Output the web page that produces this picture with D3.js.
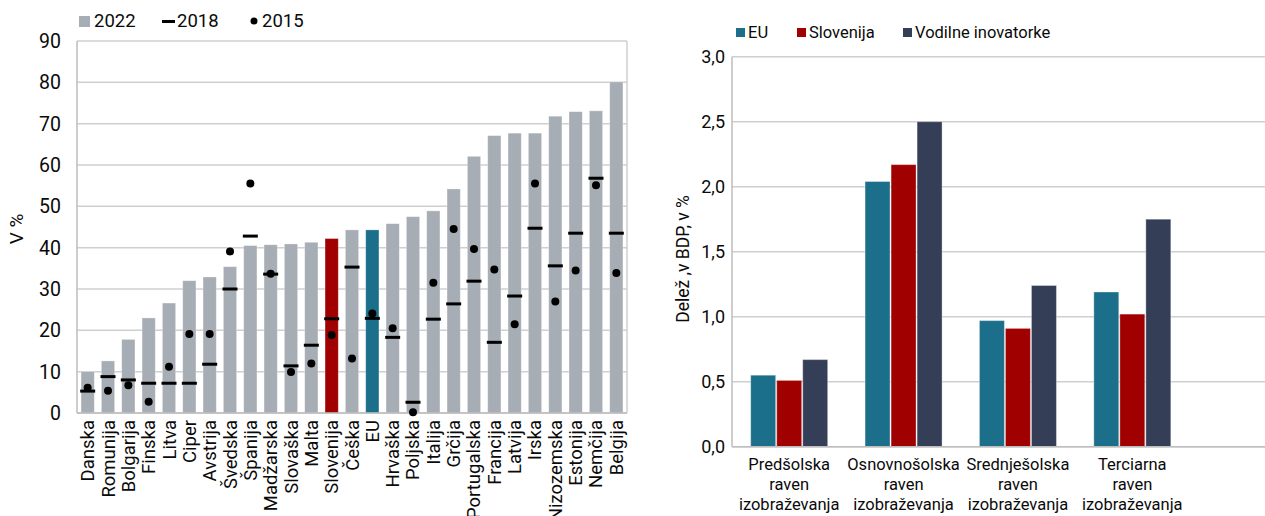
<!DOCTYPE html>
<html><head><meta charset="utf-8">
<script src="https://cdn.jsdelivr.net/npm/d3@7"></script>
<style>
html,body{margin:0;padding:0;background:#fff;}
svg{display:block;font-family:Roboto,"Noto Sans",sans-serif;}
</style></head><body>
<svg id="c" width="1265" height="516"></svg>
<script>
// ---- Left chart data ----
const countries = ["Danska","Romunija","Bolgarija","Finska","Litva","Ciper","Avstrija","Švedska","Španija","Madžarska","Slovaška","Malta","Slovenija","Češka","EU","Hrvaška","Poljska","Italija","Grčija","Portugalska","Francija","Latvija","Irska","Nizozemska","Estonija","Nemčija","Belgija"];
const v2022 = [10.0,12.6,17.8,23.0,26.6,32.0,32.9,35.4,40.5,40.7,40.9,41.3,42.2,44.3,44.3,45.8,47.5,48.9,54.2,62.1,67.1,67.7,67.7,71.8,72.9,73.1,80.1];
const v2018 = [5.3,8.8,8.0,7.2,7.2,7.2,11.8,30.0,42.8,33.6,11.4,16.4,22.8,35.3,22.9,18.3,2.6,22.7,26.4,31.9,17.1,28.3,44.7,35.6,43.5,56.8,43.5];
const v2015 = [6.1,5.4,6.7,2.7,11.2,19.1,19.1,39.1,55.5,33.7,9.9,12.0,18.9,13.2,24.1,20.5,0.2,31.5,44.5,39.7,34.7,21.5,55.5,27.0,34.5,55.1,33.9];
const leftTicks = [0,10,20,30,40,50,60,70,80,90];
const leftLegend = ["2022","2018","2015"];

// ---- Right chart data ----
const levels = [["Predšolska","raven","izobraževanja"],["Osnovnošolska","raven","izobraževanja"],["Srednješolska","raven","izobraževanja"],["Terciarna","raven","izobraževanja"]];
const seriesNames = ["EU","Slovenija","Vodilne inovatorke"];
const euVals = [0.55,2.04,0.97,1.19];
const siVals = [0.51,2.17,0.91,1.02];
const viVals = [0.67,2.50,1.24,1.75];
const rightTicks = [0,0.5,1.0,1.5,2.0,2.5,3.0];

const GRAY="#a7adb4", RED="#a10000", TEAL="#1b6f8a", NAVY="#343e57";
const GRID="#cfcfcf", AXIS="#bdbdbd", TXT="#0a0a0a";

const svg = d3.select("#c");

// ================= LEFT =================
{
  const L=77,R=627,T=41,B=413;
  const x = d3.scaleBand().domain(countries).range([L,R]).paddingInner(0.35).paddingOuter(0.2);
  const y = d3.scaleLinear().domain([0,90]).range([B,T]);
  const g = svg.append("g");
  g.selectAll(".gl").data(leftTicks).join("line")
    .attr("x1",L).attr("x2",R).attr("y1",d=>y(d)).attr("y2",d=>y(d))
    .attr("stroke",GRID).attr("stroke-width",1.5);
  g.append("line").attr("x1",R).attr("x2",R).attr("y1",T).attr("y2",B).attr("stroke",GRID).attr("stroke-width",1.5);
  g.selectAll(".bar").data(countries).join("rect")
    .attr("x",d=>x(d)).attr("width",x.bandwidth())
    .attr("y",(d,i)=>y(v2022[i])).attr("height",(d,i)=>B-y(v2022[i]))
    .attr("fill",d=>d==="Slovenija"?RED:(d==="EU"?TEAL:GRAY))
    .attr("stroke","rgba(255,255,255,0.35)").attr("stroke-width",0.8);
  g.append("line").attr("x1",L).attr("x2",L).attr("y1",T).attr("y2",B).attr("stroke",AXIS).attr("stroke-width",1.5);
  g.append("line").attr("x1",L).attr("x2",R).attr("y1",B).attr("y2",B).attr("stroke",AXIS).attr("stroke-width",1.5);
  const dw = 15;
  g.selectAll(".dash").data(countries).join("rect")
    .attr("x",d=>x(d)+x.bandwidth()/2-dw/2).attr("width",dw)
    .attr("y",(d,i)=>y(v2018[i])-1.5).attr("height",3).attr("fill","#000");
  g.selectAll(".dot").data(countries).join("circle")
    .attr("cx",d=>x(d)+x.bandwidth()/2).attr("cy",(d,i)=>y(v2015[i])).attr("r",4).attr("fill","#000");
  g.selectAll(".yt").data(leftTicks).join("text")
    .attr("x",61).attr("y",d=>y(d)).attr("dy","0.36em").attr("text-anchor","end")
    .attr("font-size",19.5).attr("fill",TXT).text(d=>d);
  g.append("text").attr("transform","translate(23,229) rotate(-90)").attr("text-anchor","middle")
    .attr("font-size",19).attr("fill",TXT).text("V %");
  g.selectAll(".xl").data(countries).join("text")
    .attr("transform",d=>`translate(${x(d)+x.bandwidth()/2+6.5},420) rotate(-90)`)
    .attr("text-anchor","end").attr("font-size",18.5).attr("fill",TXT).text(d=>d);
  const lg = g.append("g");
  lg.append("rect").attr("x",79).attr("y",16).attr("width",11).attr("height",11).attr("fill",GRAY);
  lg.append("text").attr("x",94).attr("y",27).attr("font-size",18.5).attr("fill",TXT).text(leftLegend[0]);
  lg.append("rect").attr("x",162).attr("y",20).attr("width",13).attr("height",3).attr("fill","#000");
  lg.append("text").attr("x",177).attr("y",27).attr("font-size",18.5).attr("fill",TXT).text(leftLegend[1]);
  lg.append("circle").attr("cx",254).attr("cy",21).attr("r",3.5).attr("fill","#000");
  lg.append("text").attr("x",262).attr("y",27).attr("font-size",18.5).attr("fill",TXT).text(leftLegend[2]);
}

// ================= RIGHT =================
{
  const L=732,R=1265,T=56.7,B=446.7;
  const keys = levels.map(d=>d[0]);
  const x0 = d3.scaleBand().domain(keys).range([L,1189.5]).padding(0);
  const x1 = d3.scaleBand().domain(seriesNames).range([-38.5,38.5]).paddingInner(0.04);
  const y = d3.scaleLinear().domain([0,3]).range([B,T]);
  const colors = d3.scaleOrdinal().domain(seriesNames).range([TEAL,RED,NAVY]);
  const vals = [euVals,siVals,viVals];
  const g = svg.append("g");
  g.selectAll(".gl").data(rightTicks).join("line")
    .attr("x1",L).attr("x2",R).attr("y1",d=>y(d)).attr("y2",d=>y(d))
    .attr("stroke",GRID).attr("stroke-width",1.5);
  const grp = g.selectAll(".grp").data(keys).join("g")
    .attr("transform",d=>`translate(${x0(d)+x0.bandwidth()/2},0)`);
  grp.selectAll("rect").data((d,i)=>seriesNames.map((s,j)=>({s,v:vals[j][i]}))).join("rect")
    .attr("x",d=>x1(d.s)).attr("width",x1.bandwidth())
    .attr("y",d=>y(d.v)).attr("height",d=>B-y(d.v))
    .attr("fill",d=>colors(d.s)).attr("stroke","rgba(255,255,255,0.35)").attr("stroke-width",1);
  g.append("line").attr("x1",L).attr("x2",L).attr("y1",T).attr("y2",B).attr("stroke",AXIS).attr("stroke-width",1.5);
  g.append("line").attr("x1",L).attr("x2",R).attr("y1",B).attr("y2",B).attr("stroke",AXIS).attr("stroke-width",1.5);
  const fmt = d=>d.toFixed(1).replace(".",",");
  g.selectAll(".yt").data(rightTicks).join("text")
    .attr("x",725).attr("y",d=>y(d)).attr("dy","0.36em").attr("text-anchor","end")
    .attr("font-size",18).attr("fill",TXT).text(fmt);
  g.append("text").attr("transform","translate(689,259) rotate(-90)").attr("text-anchor","middle")
    .attr("font-size",17.5).attr("fill",TXT).text("Delež ,v BDP, v %");
  const xl = g.selectAll(".xl").data(levels).join("text")
    .attr("x",d=>x0(d[0])+x0.bandwidth()/2).attr("text-anchor","middle")
    .attr("font-size",16.5).attr("fill",TXT);
  xl.selectAll("tspan").data(d=>d).join("tspan")
    .attr("x",function(){return this.parentNode.getAttribute("x");})
    .attr("y",(d,i)=>470+i*20).text(d=>d);
  const lx=[736,797,903];
  seriesNames.forEach((s,i)=>{
    g.append("rect").attr("x",lx[i]).attr("y",28).attr("width",9).attr("height",9).attr("fill",colors(s));
    g.append("text").attr("x",lx[i]+12).attr("y",37.5).attr("font-size",16.5).attr("fill",TXT).text(s);
  });
}
</script>
</body></html>
